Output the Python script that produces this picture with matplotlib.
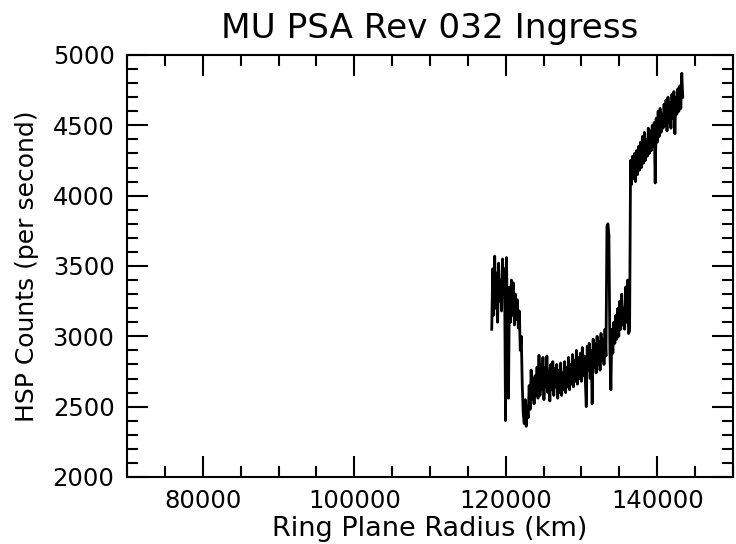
import numpy as np
import matplotlib.pyplot as plt
from matplotlib.ticker import MultipleLocator

# radius sampling of the occultation profile (km)
r_start = 118150
r_step = 130

# HSP counts per second, sample by sample
counts = [
    3050, 3480, 3150, 3570, 3200, 3450, 3100, 3520, 3250, 3400,
    3180, 3550, 3300, 3480,
    2400, 3560, 3000, 2560, 3350, 3100,
    3400, 3150, 3380, 3080, 3300, 3120, 3260, 3060,
    3180, 2900, 3000, 2650, 2450,
    2380, 2550, 2360, 2500, 2420,
    2650, 2480, 2760, 2550, 2700, 2520, 2720, 2580, 2780, 2560,
    2865, 2580, 2800, 2620, 2850, 2550, 2780, 2640, 2860, 2600, 2760, 2540, 2800,
    2620, 2820, 2580, 2770, 2640, 2800, 2560, 2760, 2600, 2810, 2580, 2740, 2620, 2820, 2600,
    2780, 2640, 2850, 2620, 2800, 2660, 2870, 2640, 2830, 2680,
    2900, 2660, 2850, 2700, 2880, 2680, 2920, 2720, 2860, 2700,
    2500, 2930, 2760, 2950, 2700, 2900, 2520, 2980, 2780, 2950,
    2740, 3000, 2800, 2960, 2760, 3020, 2830, 2980, 2800, 3050, 2860,
    3780, 3800, 3720,
    2900, 2620, 3050, 2880, 3100, 2950, 3150, 2980, 3200, 3000,
    3250, 3050, 3300, 3080, 3200, 3050, 3350, 3100, 3400, 3020, 3040,
    4250, 4080, 4280, 4120, 4300, 4100, 4320, 4150, 4350, 4180,
    4380, 4200, 4420, 4230, 4450, 4250, 4400, 4280, 4480, 4300,
    4460, 4320, 4500, 4350, 4520, 4090,
    4550, 4380, 4600, 4420, 4620, 4450, 4580, 4480, 4650, 4500,
    4680, 4460, 4700, 4520, 4660, 4480, 4720, 4550, 4740, 4440,
    4700, 4580, 4760, 4600, 4780, 4620, 4870, 4700,
]

radius = r_start + r_step * np.arange(len(counts))

fig = plt.figure(figsize=(7.36, 5.44), dpi=100)
ax = fig.add_axes([0.1726, 0.1232, 0.8233, 0.7757])

ax.plot(radius, counts, color="black", lw=2)

ax.set_xlim(70000, 150000)
ax.set_ylim(2000, 5000)
ax.xaxis.set_major_locator(MultipleLocator(20000))
ax.xaxis.set_minor_locator(MultipleLocator(5000))
ax.yaxis.set_major_locator(MultipleLocator(500))
ax.yaxis.set_minor_locator(MultipleLocator(100))

ax.tick_params(which="both", direction="in", top=True, right=True,
               width=1.5, labelsize=17.5, pad=9)
ax.tick_params(which="major", length=15)
ax.tick_params(which="minor", length=7.7)
for s in ax.spines.values():
    s.set_linewidth(1.5)

ax.set_xlabel("Ring Plane Radius (km)", fontsize=19.5, labelpad=2)
ax.set_ylabel("HSP Counts (per second)", fontsize=18, labelpad=10)
ax.set_title("MU PSA Rev 032 Ingress", fontsize=24.7, pad=12)

plt.savefig("out.png", dpi=100)
